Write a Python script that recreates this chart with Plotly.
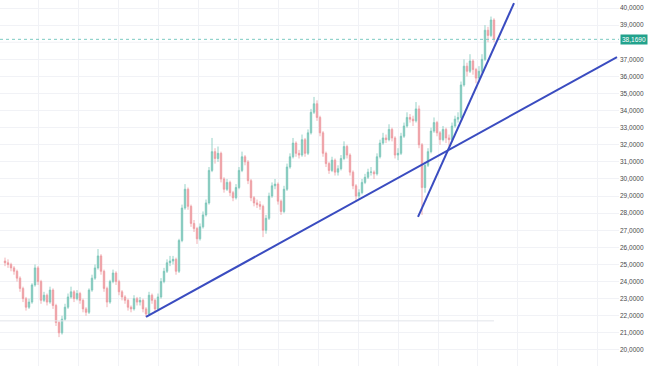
import plotly.graph_objects as go

# Candle data (one candle per bar)
opens_first = 25.2
closes = [25.1, 25.0, 24.8, 24.6, 24.2, 23.6, 23.0, 22.5, 22.8, 23.8,
          24.8, 24.0, 22.9, 23.2, 22.8, 23.5, 22.6, 21.6, 21.0, 21.8,
          22.5, 23.1, 23.4, 23.0, 23.3, 22.9, 22.4, 22.2, 23.5, 24.2,
          24.8, 25.5, 24.6, 23.6, 22.8, 24.0, 24.5, 24.0, 23.4, 23.1,
          22.9, 22.5, 22.4, 23.0, 22.8, 22.9, 22.4, 22.1, 23.2, 22.9,
          22.4, 23.1, 24.0, 24.6, 25.1, 25.2, 25.3, 24.6, 26.4, 28.3,
          29.4, 28.4, 27.4, 27.1, 26.5, 27.2, 27.9, 28.6, 30.5, 31.6,
          31.2, 31.5, 30.0, 29.4, 29.8, 29.2, 28.9, 29.5, 30.5, 31.3,
          31.0, 29.9, 28.9, 28.6, 28.5, 28.4, 27.0, 27.7, 29.0, 29.6,
          29.7, 28.7, 28.1, 29.4, 30.7, 31.3, 32.1, 31.5, 31.4, 32.3,
          31.5, 32.7, 33.9, 34.4, 33.6, 32.7, 31.5, 30.9, 30.5, 31.1,
          30.4, 30.6, 31.2, 31.9, 31.4, 30.4, 29.6, 29.0, 29.2, 29.8,
          30.1, 30.4, 30.4, 30.3, 31.3, 32.1, 32.4, 32.3, 32.9, 32.4,
          31.4, 31.5, 32.5, 33.1, 33.6, 33.5, 33.4, 34.1, 32.0, 29.5,
          30.8, 31.6, 32.8, 33.3, 32.7, 32.3, 32.9, 32.4, 32.3, 33.1,
          33.5, 33.6, 35.5, 36.6, 36.3, 36.9, 36.4, 35.9, 36.3, 37.0,
          38.7, 38.4, 39.3, 38.169]
highs = [25.4, 25.3, 25.1, 24.9, 24.7, 24.3, 23.7, 23.1, 23.0, 23.9,
         25.0, 24.9, 24.1, 23.4, 23.3, 23.7, 23.6, 22.7, 21.7, 22.0,
         22.7, 23.3, 23.7, 23.5, 23.5, 23.4, 23.0, 22.5, 23.6, 24.4,
         25.0, 25.9, 25.6, 24.7, 23.7, 24.1, 24.7, 24.6, 24.1, 23.5,
         23.2, 23.0, 22.6, 23.2, 23.1, 23.1, 23.0, 22.5, 23.4, 23.3,
         23.0, 23.3, 24.2, 24.8, 25.3, 25.5, 25.5, 25.4, 26.5, 28.5,
         29.7, 29.5, 28.5, 27.6, 27.2, 27.4, 28.1, 28.8, 30.7, 32.4,
         31.8, 31.9, 31.6, 30.1, 30.0, 29.9, 29.3, 29.7, 30.7, 31.6,
         31.4, 31.1, 30.0, 29.0, 28.8, 28.7, 28.5, 27.9, 29.2, 29.8,
         30.0, 29.8, 28.8, 29.6, 30.9, 31.5, 32.4, 32.2, 31.7, 32.6,
         32.4, 32.9, 34.1, 34.8, 34.6, 33.7, 32.8, 31.6, 31.0, 31.3,
         31.2, 30.8, 31.4, 32.2, 32.0, 31.5, 30.5, 29.7, 29.4, 30.0,
         30.3, 30.6, 30.7, 30.5, 31.5, 32.3, 32.7, 32.6, 33.2, 33.0,
         32.5, 31.8, 32.7, 33.3, 33.9, 33.8, 33.7, 34.5, 34.3, 32.1,
         31.0, 31.8, 33.0, 33.6, 33.4, 32.8, 33.1, 33.0, 32.6, 33.3,
         33.7, 33.9, 35.7, 37.0, 36.8, 37.3, 37.0, 36.5, 36.6, 37.3,
         39.0, 38.9, 39.5, 39.4]
lows = [24.9, 24.8, 24.6, 24.4, 24.0, 23.4, 22.8, 22.3, 22.4, 22.7,
        23.7, 23.8, 22.7, 22.8, 22.6, 22.7, 22.4, 21.4, 20.75, 20.9,
        21.7, 22.4, 23.0, 22.8, 22.9, 22.7, 22.2, 22.0, 22.1, 23.4,
        24.1, 24.7, 24.4, 23.4, 22.5, 22.7, 23.9, 23.8, 23.2, 22.9,
        22.7, 22.3, 22.2, 22.3, 22.6, 22.6, 22.2, 21.93, 22.0, 22.7,
        22.2, 22.3, 23.0, 23.9, 24.5, 24.9, 25.0, 24.4, 24.5, 26.3,
        28.2, 28.2, 27.2, 26.9, 26.2, 26.4, 27.1, 27.8, 28.5, 30.4,
        30.9, 31.0, 29.8, 29.2, 29.3, 29.0, 28.7, 28.8, 29.4, 30.4,
        30.8, 29.7, 28.7, 28.4, 28.3, 28.2, 26.6, 26.8, 27.6, 28.9,
        29.4, 28.5, 27.9, 28.0, 29.3, 30.6, 31.2, 31.3, 31.2, 31.3,
        31.3, 31.4, 32.6, 33.8, 33.4, 32.5, 31.3, 30.7, 30.3, 30.4,
        30.2, 30.2, 30.5, 31.1, 31.2, 30.2, 29.4, 28.75, 28.8, 29.1,
        29.7, 30.0, 30.2, 30.0, 30.2, 31.2, 32.0, 32.1, 32.2, 32.2,
        31.2, 31.1, 31.4, 32.4, 33.0, 33.3, 33.1, 33.3, 31.8, 27.9,
        29.2, 30.7, 31.5, 32.7, 32.5, 32.0, 32.2, 32.1, 31.9, 32.2,
        33.0, 33.3, 33.5, 35.4, 36.0, 36.2, 36.1, 35.6, 35.8, 36.2,
        36.9, 38.0, 38.3, 38.0]
opens = [opens_first] + closes[:-1]
bars = list(range(len(closes)))

price_ticks = [20, 21, 22, 23, 24, 25, 26, 27, 28, 29, 30,
               31, 32, 33, 34, 35, 36, 37, 39, 40]
last_price = 38.169
support_line_x = [47, 204]
support_line_y = [21.93, 37.13]
steep_line_x = [137.67, 169.67]
steep_line_y = [27.78, 40.29]
base_level = 21.7

grid_col = "#f1f2f6"
x_lo, x_hi = -1.67, 204.67

fig = go.Figure()

# grid line for the hidden 38 tick (label hidden behind last price box)
fig.add_shape(type="line", xref="paper", x0=0, x1=1, y0=38, y1=38,
              line=dict(color=grid_col, width=1), layer="below")

fig.add_trace(go.Scatter(x=[x_lo, bars[-1]], y=[base_level, base_level],
                         mode="lines", line=dict(color="#e2e4ea", width=1),
                         hoverinfo="skip", showlegend=False))

fig.add_trace(go.Candlestick(
    x=bars, open=opens, high=highs, low=lows, close=closes,
    increasing=dict(line=dict(color="#7cc7ba", width=0.8), fillcolor="#7cc7ba"),
    decreasing=dict(line=dict(color="#ee9ca1", width=0.8), fillcolor="#ee9ca1"),
    whiskerwidth=0, showlegend=False))

fig.add_trace(go.Scatter(x=[x_lo, x_hi], y=[last_price, last_price], mode="lines",
                         line=dict(color="#7ccbc2", width=1, dash="dot"),
                         hoverinfo="skip", showlegend=False))

fig.add_trace(go.Scatter(x=support_line_x, y=support_line_y, mode="lines",
                         line=dict(color="#3a4cc0", width=2), showlegend=False))
fig.add_trace(go.Scatter(x=steep_line_x, y=steep_line_y, mode="lines",
                         line=dict(color="#3a4cc0", width=2), showlegend=False))

fig.add_annotation(x=1, xref="paper", y=last_price, yref="y", xanchor="left",
                   yanchor="middle", text="38,1690", showarrow=False,
                   bgcolor="#22a28c", font=dict(color="white", size=6.5,
                                                family="Liberation Sans"),
                   borderpad=1, xshift=1)

fig.update_layout(
    width=654, height=366,
    margin=dict(l=0, r=35, t=0, b=0),
    paper_bgcolor="white", plot_bgcolor="white",
    separators=",.",
    showlegend=False,
    xaxis=dict(range=[x_lo, x_hi], rangeslider=dict(visible=False),
               showticklabels=False, showgrid=True, gridcolor=grid_col,
               tick0=11, dtick=40 / 3, zeroline=False, showline=False),
    yaxis=dict(side="right", range=[19.06, 40.47], tickvals=price_ticks,
               tickformat=".4f",
               showgrid=True, gridcolor=grid_col, zeroline=False,
               tickfont=dict(size=6.5, color="#4a4a4a", family="Liberation Sans"),
               ticks="", showline=False),
)

fig.write_html("out.html")
